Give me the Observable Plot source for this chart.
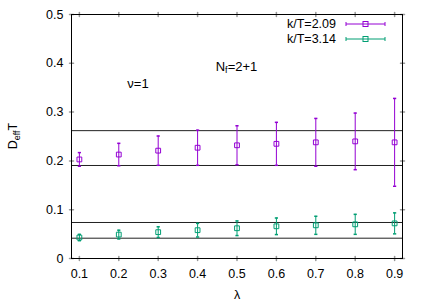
<!DOCTYPE html>
<html><head><meta charset="utf-8">
<script src="https://cdn.jsdelivr.net/npm/d3@7"></script>
<script src="https://cdn.jsdelivr.net/npm/@observablehq/plot@0.6"></script>
<style>body{margin:0;background:#fff}#chart{position:relative;width:436px;height:305px}</style>
</head><body><div id="chart"></div>
<script>
// ---- data ----
const lambda = [0.1, 0.2, 0.3, 0.4, 0.5, 0.6, 0.7, 0.8, 0.9];
const seriesNames = ["k/T=2.09", "k/T=3.14"];
const colors = ["#9400d3", "#009e73"];
const val209 = [0.203, 0.213, 0.221, 0.227, 0.232, 0.235, 0.238, 0.240, 0.238];
const err209 = [0.014, 0.023, 0.030, 0.036, 0.040, 0.044, 0.049, 0.058, 0.090];
const val314 = [0.043, 0.049, 0.054, 0.058, 0.062, 0.066, 0.068, 0.070, 0.072];
const err314 = [0.0065, 0.009, 0.011, 0.014, 0.015, 0.017, 0.0185, 0.0205, 0.0215];
const refLines = [0.262, 0.1906, 0.0738, 0.0416];
const xTicks = [0.1, 0.2, 0.3, 0.4, 0.5, 0.6, 0.7, 0.8, 0.9];
const yTicks = [0, 0.1, 0.2, 0.3, 0.4, 0.5];
const annotations = [{x: 0.25, y: 0.355, main: "ν=1", sub: "", rest: ""},
                     {x: 0.5, y: 0.39, main: "N", sub: "f", rest: "=2+1"}];

const series = [val209, val314].map((vals, s) =>
  lambda.map((x, i) => ({x, y: vals[i], e: [err209, err314][s][i]})));

const capShape = {draw(ctx, size) { const r = Math.sqrt(size / Math.PI); ctx.moveTo(-r, 0); ctx.lineTo(r, 0); }};
const lineShape = {draw(ctx, l) { ctx.moveTo(0, 0); ctx.lineTo(0, -l); }};
const tickGray = "#999";
const fmt = d => d === 0 ? "0" : d.toFixed(1);

const marks = [
  Plot.ruleY(refLines, {stroke: "#222", strokeWidth: 1}),
  Plot.vector(xTicks, {x: d => d, frameAnchor: "bottom", length: 4, rotate: 0, shape: lineShape, stroke: tickGray}),
  Plot.vector(xTicks, {x: d => d, frameAnchor: "top", length: 4, rotate: 180, shape: lineShape, stroke: tickGray}),
  Plot.vector(yTicks, {y: d => d, frameAnchor: "left", length: 4, rotate: 90, shape: lineShape, stroke: tickGray}),
  Plot.vector(yTicks, {y: d => d, frameAnchor: "right", length: 4, rotate: -90, shape: lineShape, stroke: tickGray}),
  Plot.axisX({ticks: xTicks, tickSize: 0, tickPadding: 11, tickFormat: fmt, label: "λ", labelAnchor: "center", labelArrow: "none", labelOffset: 40}),
  Plot.axisY({ticks: yTicks, tickSize: 0, tickPadding: 8, tickFormat: fmt, label: null}),
  Plot.frame({stroke: "black", strokeWidth: 1})
];
series.forEach((data, s) => {
  const c = colors[s];
  marks.push(
    Plot.ruleX(data, {x: "x", y1: d => d.y - d.e, y2: d => d.y + d.e, stroke: c, strokeWidth: 1}),
    Plot.dot(data, {x: "x", y: d => d.y - d.e, symbol: capShape, r: 1.6, stroke: c, fill: "none"}),
    Plot.dot(data, {x: "x", y: d => d.y + d.e, symbol: capShape, r: 1.6, stroke: c, fill: "none"}),
    Plot.dot(data, {x: "x", y: "y", symbol: "square", r: 2.7, stroke: c, fill: "none", strokeWidth: 1})
  );
});

const plot = Plot.plot({
  width: 436, height: 305,
  marginLeft: 71, marginRight: 34, marginTop: 14, marginBottom: 47,
  style: {fontFamily: "'Liberation Sans', Arial, sans-serif", fontSize: "12.5px", background: "white", color: "black"},
  x: {domain: [0.08, 0.92]},
  y: {domain: [0, 0.5]},
  marks
});
document.getElementById("chart").appendChild(plot);

const svg = d3.select(plot);
const xs = plot.scale("x"), ys = plot.scale("y");
const font = "'Liberation Sans', Arial, sans-serif";

// annotations
annotations.forEach(a => {
  const t = svg.append("text").attr("x", xs.apply(a.x)).attr("y", ys.apply(a.y))
    .attr("text-anchor", "middle").attr("dominant-baseline", "middle")
    .attr("font-family", font).attr("font-size", 13).attr("fill", "black");
  t.append("tspan").text(a.main);
  if (a.sub) t.append("tspan").attr("font-size", 9).attr("dy", 3).text(a.sub);
  if (a.rest) t.append("tspan").attr("dy", -3).text(a.rest);
});

// y axis title
const yt = svg.append("text").attr("transform", `translate(17,${(ys.apply(0) + ys.apply(0.5)) / 2}) rotate(-90)`)
  .attr("text-anchor", "middle").attr("font-family", font).attr("font-size", 12.5).attr("fill", "black");
yt.append("tspan").text("D");
yt.append("tspan").attr("font-size", 9).attr("dy", 3).text("eff");
yt.append("tspan").attr("dy", -3).text("T");

// legend
const lg = svg.append("g");
seriesNames.forEach((name, s) => {
  const cy = 24 + s * 15;
  lg.append("text").attr("x", 336).attr("y", cy).attr("dy", "0.35em").attr("text-anchor", "end")
    .attr("font-family", font).attr("font-size", 12.5).attr("fill", "black").text(name);
  const c = colors[s];
  lg.append("line").attr("x1", 346).attr("x2", 385).attr("y1", cy).attr("y2", cy).attr("stroke", c);
  [346, 385].forEach(x => lg.append("line").attr("x1", x).attr("x2", x).attr("y1", cy - 2).attr("y2", cy + 2).attr("stroke", c));
  lg.append("rect").attr("x", 363).attr("y", cy - 2.5).attr("width", 5).attr("height", 5).attr("fill", "none").attr("stroke", c);
});
</script></body></html>
